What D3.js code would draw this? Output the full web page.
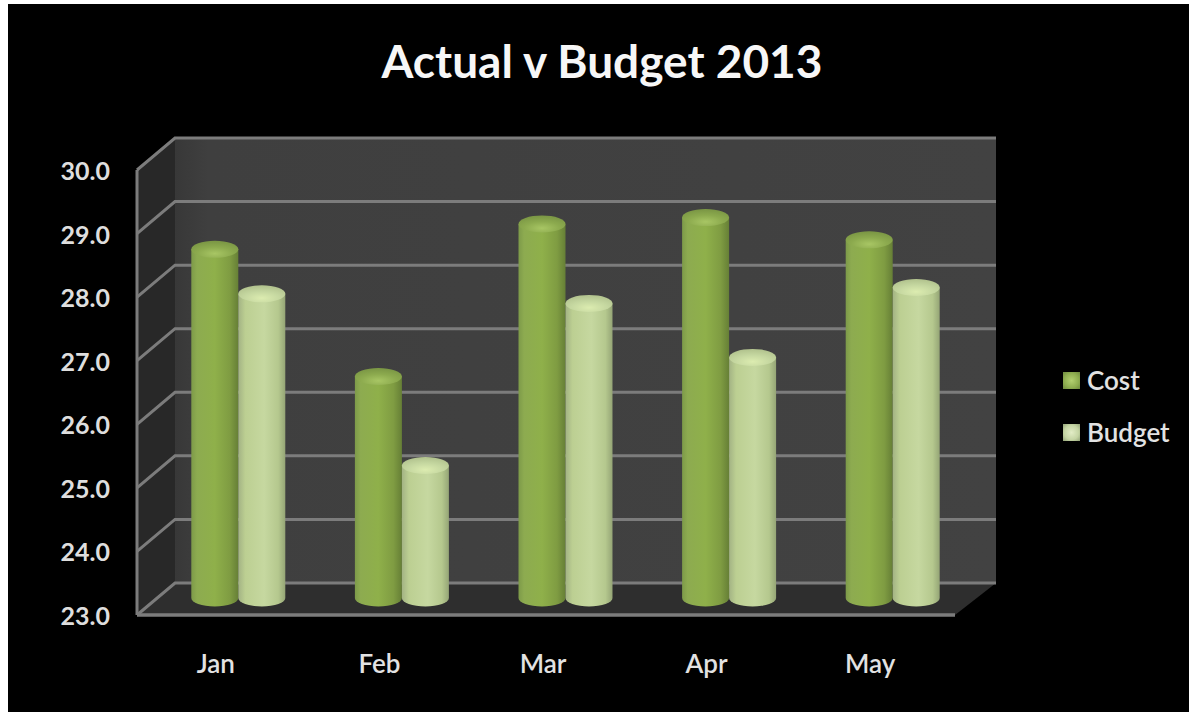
<!DOCTYPE html>
<html>
<head>
<meta charset="utf-8">
<script src="https://cdn.jsdelivr.net/npm/d3@7/dist/d3.min.js"></script>
<style>
  html, body { margin: 0; padding: 0; background: #fff; }
  svg { display: block; }
  text { font-family: Lato, "Open Sans", sans-serif; }
</style>
</head>
<body>
<svg id="chart" width="1189" height="712"></svg>
<script>
// Monthly figures for 2013
const months = ["Jan", "Feb", "Mar", "Apr", "May"];
const seriesNames = ["Cost", "Budget"];
const cost = [28.5, 26.5, 28.9, 29.0, 28.65];
const budget = [27.8, 25.1, 27.65, 26.8, 27.9];
const yTicks = [23, 24, 25, 26, 27, 28, 29, 30];

const svg = d3.select("#chart");
const defs = svg.append("defs");

// Chart frame: the front plane of the 3D box plus the depth offset of its back wall
const depthX = 38, depthY = -32;
const x = d3.scaleBand().domain(months).range([137, 955]);
const y = d3.scaleLinear().domain([23, 30]).range([615, 170]);
const pair = d3.scaleBand().domain(seriesNames).range([-46.5, 47.5]);
const radius = pair.bandwidth() / 2;
const ry = 8.5;

function linear(id, stops, vertical) {
  const g = defs.append("linearGradient").attr("id", id)
    .attr("x1", 0).attr("y1", 0).attr("x2", vertical ? 0 : 1).attr("y2", vertical ? 1 : 0);
  stops.forEach(([o, c]) => g.append("stop").attr("offset", o).attr("stop-color", c));
}
function radial(id, stops, fx, fy) {
  const g = defs.append("radialGradient").attr("id", id)
    .attr("cx", fx).attr("cy", fy).attr("r", 0.7);
  stops.forEach(([o, c]) => g.append("stop").attr("offset", o).attr("stop-color", c));
}
linear("bodyCost", [[0, "#7d9a49"], [0.12, "#8dab50"], [0.5, "#8fb04a"], [0.82, "#7f9c42"], [1, "#667f36"]]);
linear("bodyBudget", [[0, "#a3b384"], [0.15, "#bccf92"], [0.55, "#c6d8a0"], [0.85, "#b5c88e"], [1, "#95a576"]]);
radial("capCost", [[0, "#a8c664"], [0.55, "#8caa4e"], [1, "#7c9845"]], 0.5, 0.75);
radial("capBudget", [[0, "#dcecb0"], [0.55, "#c5d7a0"], [1, "#b3c48f"]], 0.5, 0.75);
radial("keyCost", [[0, "#b3d070"], [0.6, "#8fae50"], [1, "#6f8a3e"]], 0.5, 0.5);
radial("keyBudget", [[0, "#e2ecc6"], [0.6, "#c5d5a4"], [1, "#93a378"]], 0.5, 0.5);
linear("backWall", [[0, "#383838"], [0.04, "#3f3f3f"], [1, "#424242"]]);

// Page background panel
svg.append("rect").attr("x", 8).attr("y", 4).attr("width", 1181).attr("height", 708).attr("fill", "#000");

svg.append("text").attr("x", 602).attr("y", 78).attr("text-anchor", "middle")
  .attr("font-size", 46).attr("font-weight", 700).attr("fill", "#f7f7f7")
  .text("Actual v Budget 2013");

const [x0, x1] = x.range();
const yTop = y(30), yBase = y(23);
const xBack = x1 + depthX + 3;

// Left wall, back wall and floor
const polygon = pts => d3.line()(pts) + "Z";
svg.append("path").attr("fill", "#282828")
  .attr("d", polygon([[x0, yBase], [x0, yTop], [x0 + depthX, yTop + depthY], [x0 + depthX, yBase + depthY]]));
svg.append("path").attr("fill", "url(#backWall)")
  .attr("d", polygon([[x0 + depthX, yTop + depthY], [xBack, yTop + depthY], [xBack, yBase + depthY], [x0 + depthX, yBase + depthY]]));
svg.append("path").attr("fill", "#2e2e2e")
  .attr("d", polygon([[x0, yBase], [x0 + depthX, yBase + depthY], [xBack, yBase + depthY], [x1, yBase]]));

// Gridlines wrap from the front-left edge onto the back wall
svg.append("g").selectAll("path").data(yTicks).join("path")
  .attr("fill", "none").attr("stroke", "#7c7c7c").attr("stroke-width", 3)
  .attr("d", v => d3.line()([[x0, y(v)], [x0 + depthX, y(v) + depthY], [xBack, y(v) + depthY]]));
svg.append("line").attr("x1", x0).attr("x2", x0).attr("y1", yTop).attr("y2", yBase)
  .attr("stroke", "#7c7c7c").attr("stroke-width", 3);
svg.append("line").attr("x1", x0).attr("x2", x1).attr("y1", yBase).attr("y2", yBase)
  .attr("stroke", "#7c7c7c").attr("stroke-width", 3.5);

// Cylinders stand half way into the depth of the box
const rows = months.flatMap((m, i) => [
  { month: m, series: "Cost", value: cost[i], body: "bodyCost", cap: "capCost" },
  { month: m, series: "Budget", value: budget[i], body: "bodyBudget", cap: "capBudget" }
]);
const cx = d => x(d.month) + x.bandwidth() / 2 + depthX / 2 + pair(d.series) + radius;
const cyOf = v => y(v) + depthY / 2;
const bars = svg.append("g").selectAll("g").data(rows).join("g");
bars.append("path").attr("fill", d => `url(#${d.body})`)
  .attr("d", d => {
    const c = cx(d), top = cyOf(d.value), base = cyOf(23) - 1;
    return `M${c - radius},${top}L${c - radius},${base}A${radius},${ry} 0 0 0 ${c + radius},${base}L${c + radius},${top}Z`;
  });
bars.append("ellipse").attr("fill", d => `url(#${d.cap})`)
  .attr("cx", cx).attr("cy", d => cyOf(d.value)).attr("rx", radius).attr("ry", ry);

// Value axis labels
const yAxis = svg.append("g").attr("transform", "translate(110,1.5)")
  .call(d3.axisLeft(y).tickValues(yTicks).tickFormat(d3.format(".1f")).tickSize(0).tickPadding(0));
yAxis.select(".domain").remove();
yAxis.selectAll("text").attr("font-size", 25).attr("font-weight", 700)
  .attr("font-family", "Lato").attr("fill", "#dedede").attr("x", 0);

// Category labels
const xAxis = svg.append("g").attr("transform", `translate(-3,${yBase})`)
  .call(d3.axisBottom(x).tickSize(0).tickPadding(40));
xAxis.select(".domain").remove();
xAxis.selectAll("text").attr("font-size", 26).attr("font-weight", 600)
  .attr("font-family", "Lato").attr("fill", "#e2e2e2");

// Legend
const legend = svg.append("g").selectAll("g").data(seriesNames).join("g")
  .attr("transform", (d, i) => `translate(1063,${372 + i * 52})`);
legend.append("rect").attr("width", 17).attr("height", 17)
  .attr("fill", (d, i) => i === 0 ? "url(#keyCost)" : "url(#keyBudget)");
legend.append("text").attr("x", 24).attr("y", 9).attr("dy", "0.35em")
  .attr("font-size", 26).attr("font-weight", 600).attr("fill", "#e2e2e2").text(d => d);
</script>
</body>
</html>
